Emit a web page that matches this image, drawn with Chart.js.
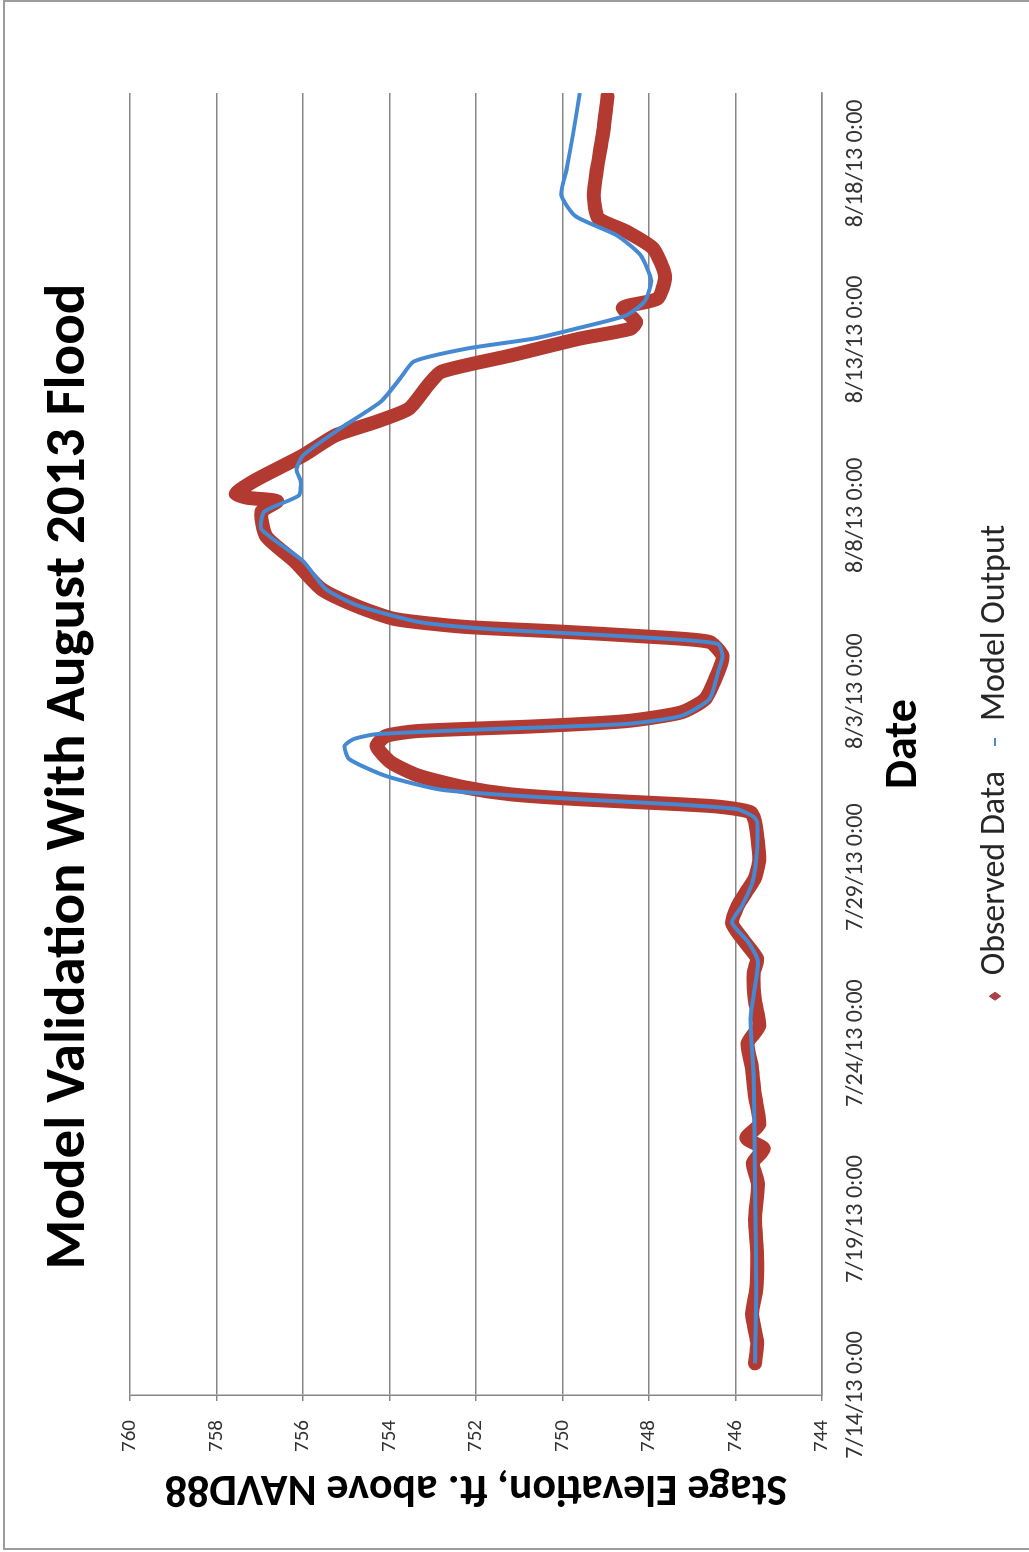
<!DOCTYPE html>
<html>
<head>
<meta charset="utf-8">
<script src="https://cdn.jsdelivr.net/npm/chart.js@4.4.1/dist/chart.umd.min.js"></script>
<style>
  html, body { margin: 0; padding: 0; background: #fff; overflow: hidden; width: 1029px; height: 1552px; }
  #frame {
    position: absolute; left: 3px; top: 0; width: 1060px; height: 1550px;
    box-sizing: border-box;
    border-left: 2px solid #9c9c9c; border-top: 2px solid #9c9c9c; border-bottom: 2px solid #9c9c9c;
  }
  /* chart is drawn landscape, then turned a quarter turn like the scanned page */
  #wrap {
    position: absolute; left: 0; top: 0; width: 1552px; height: 1029px;
    transform-origin: 0 0; transform: translateY(1552px) rotate(-90deg);
  }
</style>
</head>
<body>
<div id="frame"></div>
<div id="wrap"><canvas id="stage-chart" width="1552" height="1029"></canvas></div>
<script>
// days after 7/14/13 0:00
const tickLabels = ['7/14/13 0:00', '7/19/13 0:00', '7/24/13 0:00', '7/29/13 0:00',
                    '8/3/13 0:00', '8/8/13 0:00', '8/13/13 0:00', '8/18/13 0:00'];

const obsDay = [0.9, 1.5, 2.3, 3.0, 4.0, 5.0, 6.0, 6.6, 7.0, 7.3, 7.7, 8.5, 9.3, 10.0, 10.5,
  11.2, 12.0, 12.4, 12.9, 13.4, 13.9, 14.3, 14.7, 15.2, 15.7, 16.3, 16.56, 16.72, 16.8,
  16.93, 17.07, 17.27, 17.6, 17.98, 18.44, 18.73, 18.87, 19.0, 19.15, 19.4, 19.78, 20.55,
  21.0, 21.4, 21.55, 21.7, 21.83, 22.05, 22.4, 22.9, 23.7, 24.4, 25.1, 25.4, 25.5, 25.62,
  26.0, 26.7, 27.27, 27.66, 28.03, 28.68, 29.08, 29.54, 30.02, 30.3, 30.5, 30.9, 31.16,
  31.8, 32.58, 33.07, 33.44, 34.1, 34.86, 35.8, 36.9];
const obsStage = [745.55, 745.50, 745.62, 745.52, 745.50, 745.55, 745.48, 745.60, 745.35,
  745.75, 745.45, 745.55, 745.62, 745.72, 745.45, 745.55, 745.58, 745.50, 745.80, 746.08,
  745.95, 745.75, 745.55, 745.45, 745.48, 745.55, 745.65, 746.4, 747.47, 749.6, 751.2,
  752.27, 753.33, 753.97, 754.3, 754.08, 753.33, 750.67, 748.53, 747.25, 746.7, 746.4,
  746.3, 746.6, 748.0, 750.13, 752.27, 753.87, 754.72, 755.57, 756.2, 756.85, 756.96,
  756.6, 757.3, 757.55, 757.1, 756.0, 755.25, 754.3, 753.55, 753.12, 752.8, 751.2, 749.6,
  748.43, 748.3, 748.6, 747.8, 747.63, 747.9, 748.53, 749.17, 749.28, 749.2, 749.07, 748.96];

const modelDay = [0.9, 3.0, 6.0, 9.0, 10.76, 12.3, 12.86, 13.43, 13.9, 14.6, 15.5, 16.3,
  16.45, 16.65, 16.79, 17.0, 17.2, 17.59, 18.07, 18.44, 18.64, 18.78, 18.92, 19.07, 19.3,
  19.78, 20.55, 21.0, 21.34, 21.48, 21.63, 21.77, 21.97, 22.43, 22.9, 23.7, 24.6, 25.1,
  25.56, 25.94, 26.3, 26.7, 27.46, 28.23, 28.88, 29.37, 29.74, 30.02, 30.3, 30.68, 31.08,
  31.66, 32.4, 32.96, 33.5, 34.1, 34.86, 35.8, 37.0];
const modelStage = [745.55, 745.52, 745.55, 745.58, 745.65, 745.48, 745.7, 746.08, 745.85,
  745.6, 745.5, 745.5, 745.6, 745.97, 747.47, 750.67, 752.8, 754.08, 754.93, 755.04,
  754.83, 754.3, 751.73, 748.53, 747.25, 746.6, 746.4, 746.3, 746.4, 747.47, 749.6,
  751.73, 753.33, 754.72, 755.47, 756.0, 756.96, 756.9, 756.1, 756.05, 756.15, 756.0,
  755.15, 754.2, 753.76, 753.44, 752.2, 750.67, 749.7, 748.53, 748.1, 747.95, 748.2,
  748.75, 749.7, 750.03, 749.9, 749.76, 749.6];

const FONT = 'Carlito, Lato, "Open Sans", sans-serif';

// title and legend are centred on the page, not on the plot
const nudge = {
  id: 'nudge',
  afterLayout(chart) {
    const t = chart.titleBlock;
    if (t) { t.left += 36; t.right += 36; }
    const lg = chart.legend;
    if (lg) { lg.left += 50; lg.right += 50; }
  }
};

new Chart(document.getElementById('stage-chart'), {
  type: 'scatter',
  data: {
    datasets: [
      {
        label: 'Observed Data',
        data: obsDay.map((d, i) => ({ x: d, y: obsStage[i] })),
        showLine: true,
        borderColor: '#B23A30',
        backgroundColor: '#A8404F',
        borderWidth: 14,
        borderJoinStyle: 'round',
        borderCapStyle: 'round',
        tension: 0.2,
        pointRadius: 0,
        pointStyle: 'rectRot',
        order: 1
      },
      {
        label: 'Model Output',
        data: modelDay.map((d, i) => ({ x: d, y: modelStage[i] })),
        showLine: true,
        borderColor: '#4589D2',
        backgroundColor: '#4589D2',
        borderWidth: 4,
        tension: 0.2,
        pointRadius: 0,
        pointStyle: 'line',
        order: 0
      }
    ]
  },
  options: {
    responsive: false,
    devicePixelRatio: 1,
    animation: false,
    layout: { padding: { left: 20, right: 93, top: 10, bottom: 7 } },
    plugins: {
      tooltip: { enabled: false },
      title: {
        display: true,
        text: 'Model Validation With August 2013 Flood',
        color: '#000',
        font: { family: FONT, size: 57, weight: 'bold' },
        padding: { top: 25.8, bottom: 25.8 }
      },
      legend: {
        position: 'bottom',
        labels: {
          color: '#262626',
          font: { family: FONT, size: 34 },
          usePointStyle: true,
          boxHeight: 8,
          pointStyleWidth: 8,
          padding: 25,
          sort: (a, b) => a.datasetIndex - b.datasetIndex,
          generateLabels: (chart) => Chart.defaults.plugins.legend.labels.generateLabels(chart)
            .map(l => ({ ...l, lineWidth: l.datasetIndex === 0 ? 1 : 2 }))
        }
      }
    },
    scales: {
      x: {
        type: 'linear',
        min: 0,
        max: 37,
        afterFit: (s) => { s.height = 131; },
        grid: { display: false, drawTicks: false },
        border: { display: true, color: '#868686', width: 1.5 },
        ticks: {
          stepSize: 5,
          includeBounds: false,
          maxRotation: 0,
          autoSkip: false,
          padding: 20,
          color: '#333',
          font: { family: FONT, size: 24 },
          callback: (v) => tickLabels[v / 5] ?? ''
        },
        title: {
          display: true,
          text: 'Date',
          color: '#000',
          font: { family: FONT, size: 46, weight: 'bold' },
          padding: { bottom: 21 }
        }
      },
      y: {
        min: 744,
        max: 760,
        afterFit: (s) => { s.width = 137; },
        grid: { color: '#868686', lineWidth: 1.5, tickLength: 6 },
        border: { display: true, color: '#868686', width: 1.5 },
        ticks: {
          stepSize: 2,
          padding: 19,
          color: '#333',
          font: { family: FONT, size: 21 }
        },
        title: {
          display: true,
          text: 'Stage Elevation, ft. above NAVD88',
          color: '#000',
          font: { family: FONT, size: 44, weight: 'bold' },
          padding: { top: 18.6 }
        }
      }
    }
  },
  plugins: [nudge]
});
</script>
</body>
</html>
